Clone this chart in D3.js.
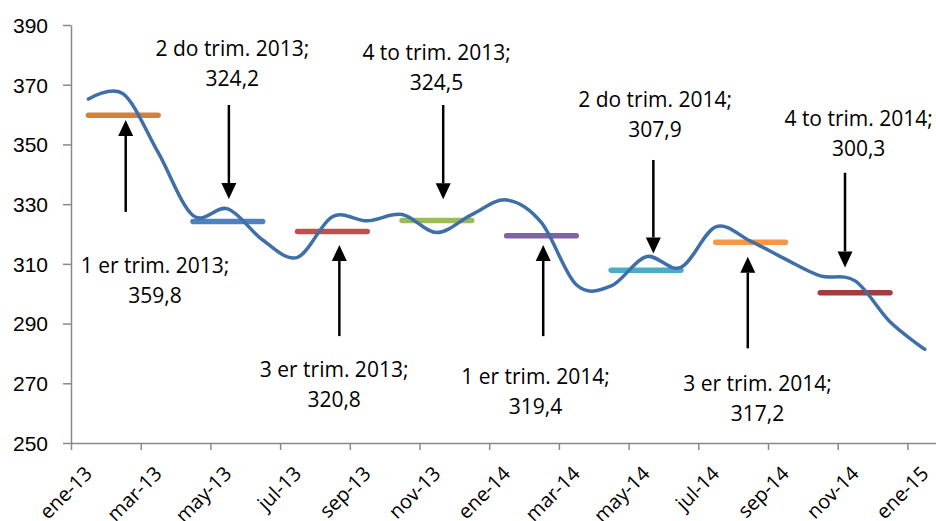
<!DOCTYPE html>
<html>
<head>
<meta charset="utf-8">
<script src="https://cdnjs.cloudflare.com/ajax/libs/d3/7.8.5/d3.min.js"></script>
<style>
  body { margin: 0; background: #fff; }
  svg { display: block; font-family: "Open Sans", Lato, sans-serif; }
  .axis path, .axis line { stroke: #898989; stroke-width: 1.5px; }
  .axis text { font-size: 20px; fill: #000; }
  .axis--y text { font-size: 21px; }
  .note { font-size: 21px; fill: #000; }
</style>
</head>
<body>
<svg id="chart" width="936" height="521"></svg>
<script>
// monthly series
var months = ['ene-13','feb-13','mar-13','abr-13','may-13','jun-13','jul-13','ago-13','sep-13','oct-13','nov-13','dic-13',
              'ene-14','feb-14','mar-14','abr-14','may-14','jun-14','jul-14','ago-14','sep-14','oct-14','nov-14','dic-14','ene-15'];
var values = [365.2, 366.9, 347.3, 326.2, 328.4, 318.0, 312.2, 325.8, 324.4, 326.5, 320.5, 326.5,
              331.4, 323.8, 303.0, 302.6, 312.4, 308.8, 322.4, 317.6, 311.6, 306.0, 304.3, 290.6, 281.4];

// quarterly averages
var quarterNames  = ['1 er trim. 2013;','2 do trim. 2013;','3 er trim. 2013;','4 to trim. 2013;',
                     '1 er trim. 2014;','2 do trim. 2014;','3 er trim. 2014;','4 to trim. 2014;'];
var quarterValues = [359.8, 324.2, 320.8, 324.5, 319.4, 307.9, 317.2, 300.3];
var quarterLabels = ['359,8','324,2','320,8','324,5','319,4','307,9','317,2','300,3'];

var yTicks = [250, 270, 290, 310, 330, 350, 370, 390];

// styling / annotation placement (in month index and value units)
var quarterColors = ['#D3803A','#4F81BD','#C0504D','#9BBB59','#8064A2','#4BACC6','#F79646','#9F3F3B'];
var arrowLayout = [
  {ax: 1.07,  tail: 327.4, tip: 358.2, lx: 1.91,  ly: 309.3},
  {ax: 4.03,  tail: 363.2, tip: 331.7, lx: 4.13,  ly: 382.0},
  {ax: 7.20,  tail: 285.8, tip: 316.3, lx: 7.05,  ly: 274.5},
  {ax: 10.18, tail: 363.2, tip: 331.6, lx: 9.99,  ly: 380.6},
  {ax: 13.05, tail: 285.8, tip: 316.3, lx: 12.83, ly: 272.2},
  {ax: 16.21, tail: 344.8, tip: 313.5, lx: 16.26, ly: 364.9},
  {ax: 18.92, tail: 281.7, tip: 312.4, lx: 19.2,  ly: 270.0},
  {ax: 21.71, tail: 340.5, tip: 308.8, lx: 22.1,  ly: 358.75}
];

var
  svg = d3.select('#chart'),
  left = 71,
  step = 34.85,
  xScale = d3.scaleLinear().domain([-0.5, months.length - 0.5]).range([left, left + step * months.length]),
  yScale = d3.scaleLinear().domain([250, 390]).range([443, 25])
  ;

// y axis
svg.append('g')
  .attr('class', 'axis axis--y')
  .attr('transform', 'translate(' + left + ',0)')
  .call(d3.axisLeft(yScale).tickValues(yTicks).tickSize(8).tickSizeOuter(0).tickPadding(15))
  .selectAll('text').attr('dy', '0.35em');

// x axis: ticks on every second category boundary
var boundaries = d3.range(-0.5, months.length, 2);
svg.append('g')
  .attr('class', 'axis axis--x')
  .attr('transform', 'translate(0,' + yScale(250) + ')')
  .call(d3.axisBottom(xScale).tickValues(boundaries).tickSize(7).tickSizeOuter(0).tickFormat(''));

svg.append('g')
  .attr('class', 'axis')
  .selectAll('text')
  .data(months.filter(function(d, i){ return i % 2 === 0; }))
  .enter().append('text')
  .attr('transform', function(d, i){ return 'translate(' + xScale(i * 2) + ',470) rotate(-45)'; })
  .attr('text-anchor', 'end')
  .attr('dy', '0.35em')
  .text(function(d){ return d; });

// quarter average bars
svg.append('g')
  .selectAll('line')
  .data(quarterValues)
  .enter().append('line')
  .attr('x1', function(d, i){ return xScale(i * 3); })
  .attr('x2', function(d, i){ return xScale(i * 3 + 2); })
  .attr('y1', function(d){ return yScale(d); })
  .attr('y2', function(d){ return yScale(d); })
  .attr('stroke', function(d, i){ return quarterColors[i]; })
  .attr('stroke-width', 5.5)
  .attr('stroke-linecap', 'round');

// monthly line
var line = d3.line()
  .curve(d3.curveCatmullRom.alpha(0))
  .x(function(d, i){ return xScale(i); })
  .y(function(d){ return yScale(d); });

svg.append('path')
  .datum(values)
  .attr('d', line)
  .attr('fill', 'none')
  .attr('stroke', '#3F6FA8')
  .attr('stroke-width', 3.5)
  .attr('stroke-linecap', 'round');

// arrows + notes
var notes = svg.append('g')
  .selectAll('g')
  .data(arrowLayout)
  .enter().append('g');

notes.each(function(d, i){
  var
    g = d3.select(this),
    x = xScale(d.ax),
    y0 = yScale(d.tail),
    y1 = yScale(d.tip),
    dir = y1 > y0 ? 1 : -1,
    head = 16,
    half = 7.5
    ;
  g.append('line')
    .attr('x1', x).attr('x2', x)
    .attr('y1', y0).attr('y2', y1 - dir * head)
    .attr('stroke', '#000')
    .attr('stroke-width', 2.5);
  g.append('path')
    .attr('d', 'M' + x + ',' + y1 + 'L' + (x - half) + ',' + (y1 - dir * head) + 'L' + (x + half) + ',' + (y1 - dir * head) + 'Z')
    .attr('fill', '#000');

  var t = g.append('text')
    .attr('class', 'note')
    .attr('text-anchor', 'middle')
    .attr('x', xScale(d.lx))
    .attr('y', yScale(d.ly))
    .attr('dy', '0.35em');
  t.append('tspan').text(quarterNames[i]);
  t.append('tspan').attr('x', xScale(d.lx)).attr('dy', 30).text(quarterLabels[i]);
});
</script>
</body>
</html>
